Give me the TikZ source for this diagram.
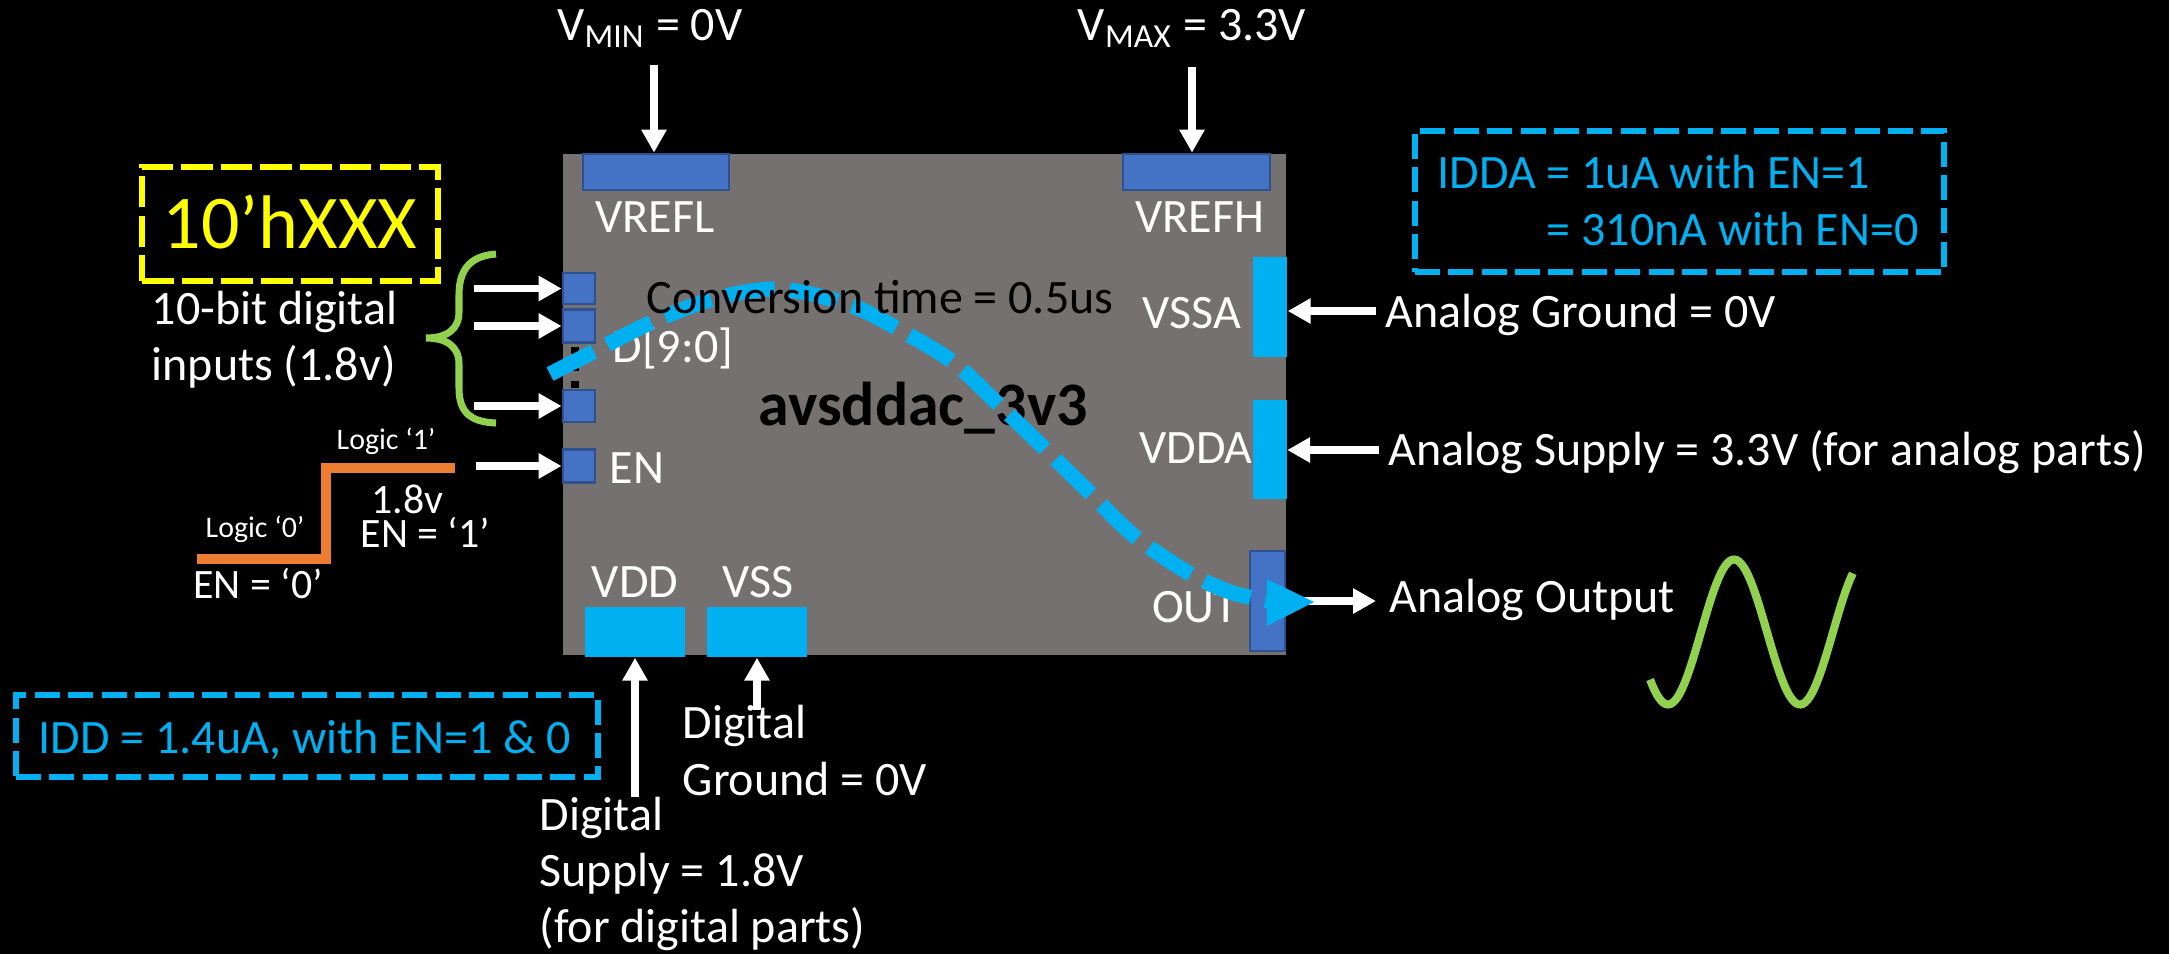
\documentclass[tikz,border=0pt]{standalone}
\usepackage{fontspec}
\setmainfont{Carlito}
\usetikzlibrary{arrows.meta}
\definecolor{chipgray}{HTML}{767171}
\definecolor{padblue}{HTML}{4472C4}
\definecolor{padedge}{HTML}{2F528F}
\definecolor{sky}{HTML}{00B0F0}
\definecolor{lime}{HTML}{92D050}
\definecolor{orng}{HTML}{ED7D31}
\definecolor{yel}{HTML}{FFFF00}
\newcommand{\fmain}{\fontsize{13.65pt}{16.4pt}\selectfont}
\newcommand{\fmid}{\fontsize{11.9pt}{14pt}\selectfont}
\newcommand{\ftiny}{\fontsize{8.5pt}{10pt}\selectfont}
\newcommand{\fhuge}{\fontsize{21.6pt}{26pt}\selectfont}
\newcommand{\fchip}{\fontsize{17.6pt}{21pt}\selectfont\bfseries}
\begin{document}
\begin{tikzpicture}[x=0.01cm,y=-0.01cm,
  lbl/.style={text=white,font=\fmain,inner sep=0pt},
  blbl/.style={text=sky,font=\fmain,inner sep=0pt},
  bpad/.style={fill=padblue,draw=padedge,line width=0.8pt,inner sep=0pt},
  cpad/.style={fill=sky,draw=none,inner sep=0pt},
  arr/.style={draw=white,line width=2.2pt,-{Triangle[length=6.5pt,width=6.8pt]}},
  skybox/.style={draw=sky,line width=1.65pt,dash pattern=on 7.1pt off 2.4pt,inner sep=0pt},
  yelbox/.style={draw=yel,line width=1.7pt,dash pattern=on 9pt off 2.3pt,inner sep=0pt}]
\useasboundingbox (0,0) rectangle (2169,954);
\fill[black] (0,0) rectangle (2169,954);

% chip body
\node[fill=chipgray,draw=none,minimum width=7.23cm,minimum height=5.01cm,inner sep=0pt] (chip) at (924.5,404.5) {};

% pads
\node[bpad,minimum width=1.46cm,minimum height=0.36cm] (vrefl) at (656,172) {};
\node[bpad,minimum width=1.47cm,minimum height=0.36cm] (vrefh) at (1196.5,172) {};
\node[cpad,minimum width=0.34cm,minimum height=1.00cm] (vssa) at (1270,307) {};
\node[cpad,minimum width=0.34cm,minimum height=0.99cm] (vdda) at (1269.5,449.5) {};
\node[bpad,minimum width=0.35cm,minimum height=1.00cm] (out) at (1267.5,601) {};
\node[cpad,minimum width=1.00cm,minimum height=0.50cm] (vdd) at (635,632) {};
\node[cpad,minimum width=1.00cm,minimum height=0.50cm] (vss) at (757,632) {};
\node[bpad,minimum width=0.32cm,minimum height=0.31cm] (d1) at (579,288.5) {};
\node[bpad,minimum width=0.32cm,minimum height=0.33cm] (d2) at (579,326) {};
\node[bpad,minimum width=0.32cm,minimum height=0.32cm] (d3) at (579,406) {};
\node[bpad,minimum width=0.32cm,minimum height=0.33cm] (en) at (579,466) {};
\draw[black,line width=2pt,dash pattern=on 2pt off 2.8pt] (575,347) -- (575,390);

% pin labels
\node[lbl,anchor=base] (vreflt) at (655,232) {VREFL};
\node[lbl,anchor=base] (vrefht) at (1200,232) {VREFH};
\node[lbl,anchor=base] (vssat) at (1192,328) {VSSA};
\node[lbl,anchor=base] (vddat) at (1196,463) {VDDA};
\node[lbl,anchor=base] (outt) at (1195,622) {OUT};
\node[lbl,anchor=base] (vddt) at (635,597) {VDD};
\node[lbl,anchor=base] (vsst) at (758,597) {VSS};
\node[lbl,anchor=base west] (dt) at (612,362) {D[9:0]};
\node[lbl,anchor=base west] (ent) at (609,483) {EN};
\node[text=black,font=\fchip,inner sep=0pt,anchor=base] (chipname) at (923,425) {avsddac\_3v3};

% top inputs
\node[lbl,anchor=base] (vmint) at (650,40) {V\textsubscript{MIN} = 0V};
\node[lbl,anchor=base] (vmaxt) at (1192,40) {V\textsubscript{MAX} = 3.3V};
\coordinate (vminS) at (654,65);
\coordinate (vmaxS) at (1192,67);
\draw[arr] (vminS) -- (vminS |- vrefl.north);
\draw[arr] (vmaxS) -- (vmaxS |- vrefh.north);

% left inputs
\coordinate (s1) at (474,288.5);
\coordinate (s2) at (474,326);
\coordinate (s3) at (474,406);
\coordinate (s4) at (476,466);
\draw[arr] (s1) -- (d1.west);
\draw[arr] (s2) -- (d2.west);
\draw[arr] (s3) -- (d3.west);
\draw[arr] (s4) -- (en.west);

% brace
\draw[lime,line width=2pt] (496,254) .. controls (468,256) and (459,272) .. (459,295)
  -- (459,312) .. controls (459,330) and (446,338) .. (426,338)
  .. controls (446,338) and (459,346) .. (459,364)
  -- (459,388) .. controls (459,410) and (468,422) .. (496,423);

\node[yelbox,minimum width=2.96cm,minimum height=1.14cm] (hexbox) at (290,224) {};
\node[text=yel,font=\fhuge,inner sep=0pt,anchor=base] (hext) at (290,248) {10’hXXX};
\node[lbl,font=\fontsize{13.65pt}{15.65pt}\selectfont,align=left,anchor=base west] (bits) at (151,380) {10-bit digital\\inputs (1.8v)};

% enable step
\draw[orng,line width=3.1pt] (197,559) -- (326,559) -- (326,468) -- (455,468);
\node[lbl,font=\ftiny,anchor=base west] (l1) at (336,449) {Logic ‘1’};
\node[lbl,font=\ftiny,anchor=base west] (l0) at (205,537) {Logic ‘0’};
\node[lbl,font=\fontsize{11.9pt}{9.67pt}\selectfont,align=left,anchor=base west] (en1) at (360,547) {\hspace*{3.1pt}1.8v\\EN = ‘1’};
\node[lbl,font=\fmid,anchor=base] (en0) at (258,598) {EN = ‘0’};

% right inputs
\coordinate (agS) at (1376,311);
\coordinate (asS) at (1379,450);
\draw[arr] (agS) -- (agS -| vssa.east);
\draw[arr] (asS) -- (asS -| vdda.east);
\node[lbl,anchor=base west] (agt) at (1385,327) {Analog Ground = 0V};
\node[lbl,anchor=base west] (ast) at (1388,465) {Analog Supply = 3.3V (for analog parts)};

% IDDA box
\node[skybox,minimum width=5.29cm,minimum height=1.41cm] (iddabox) at (1679.5,201.5) {};
\node[blbl,anchor=base west] (idda1) at (1437,188) {IDDA = 1uA with EN=1};
\node[blbl,anchor=base west] (idda2) at (1546,245) {= 310nA with EN=0};

% output
\coordinate (aoE) at (1376,601);
\draw[arr] (out.east) -- (aoE);
\node[lbl,anchor=base west] (aot) at (1389,612) {Analog Output};
\draw[lime,line width=2.3pt] plot[domain=-139:414,samples=90] ({1734+(\x-90)*0.366667},{632-72.5*sin(\x)});

% bottom supplies
\coordinate (vddS) at (635,797);
\coordinate (vssS) at (757,710);
\draw[arr] (vddS) -- (vdd.south);
\draw[arr] (vssS) -- (vss.south);
\node[lbl,anchor=base west] (dg1) at (682,738) {Digital};
\node[lbl,anchor=base west] (dg2) at (682,795) {Ground = 0V};
\node[lbl,anchor=base west] (ds1) at (539,830) {Digital};
\node[lbl,anchor=base west] (ds2) at (539,886) {Supply = 1.8V};
\node[lbl,anchor=base west] (ds3) at (539,942) {(for digital parts)};
\node[skybox,minimum width=5.82cm,minimum height=0.82cm] (iddbox) at (307,736) {};
\node[blbl,anchor=base west] (iddt) at (38,753) {IDD = 1.4uA, with EN=1 \& 0};

% conversion curve
\draw[sky,line width=4.3pt,line cap=butt,dash pattern=on 14pt off 4.3pt]
  plot[smooth,tension=0.5] coordinates {(550,374) (595,351) (650,323) (713,299) (780,289) (850,305) (900,330) (953,362) (997,403) (1043,447) (1090,493) (1133,535) (1187,572) (1230,592) (1268,601)};
\fill[sky] (1267,579) -- (1314,602) -- (1267,626) -- cycle;
\node[text=black,font=\fmain,inner sep=0pt,anchor=base] (convt) at (880,313) {Conversion time = 0.5us};
\end{tikzpicture}
\end{document}
